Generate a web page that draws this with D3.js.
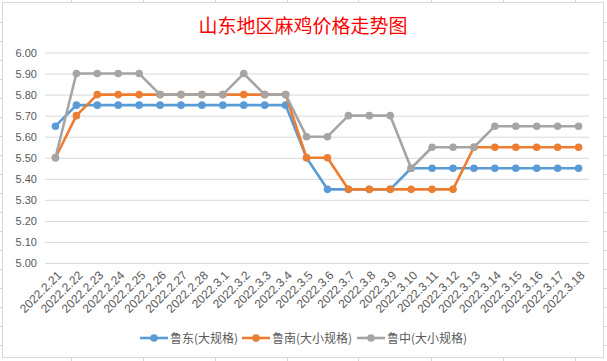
<!DOCTYPE html>
<html><head><meta charset="utf-8">
<script src="https://cdn.jsdelivr.net/npm/d3@7"></script>
<style>body{margin:0;background:#fff}svg{display:block}</style>
</head><body>
<svg id="c" width="607" height="361"></svg>
<script>
const title = "山东地区麻鸡价格走势图";
const dates = ["2022.2.21","2022.2.22","2022.2.23","2022.2.24","2022.2.25","2022.2.26","2022.2.27","2022.2.28","2022.3.1","2022.3.2","2022.3.3","2022.3.4","2022.3.5","2022.3.6","2022.3.7","2022.3.8","2022.3.9","2022.3.10","2022.3.11","2022.3.12","2022.3.13","2022.3.14","2022.3.15","2022.3.16","2022.3.17","2022.3.18"];
const seriesNames = ["鲁东(大规格)","鲁南(大小规格)","鲁中(大小规格)"];
const ludong = [5.65,5.75,5.75,5.75,5.75,5.75,5.75,5.75,5.75,5.75,5.75,5.75,5.50,5.35,5.35,5.35,5.35,5.45,5.45,5.45,5.45,5.45,5.45,5.45,5.45,5.45];
const lunan  = [5.50,5.70,5.80,5.80,5.80,5.80,5.80,5.80,5.80,5.80,5.80,5.80,5.50,5.50,5.35,5.35,5.35,5.35,5.35,5.35,5.55,5.55,5.55,5.55,5.55,5.55];
const luzhong= [5.50,5.90,5.90,5.90,5.90,5.80,5.80,5.80,5.80,5.90,5.80,5.80,5.60,5.60,5.70,5.70,5.70,5.45,5.55,5.55,5.55,5.65,5.65,5.65,5.65,5.65];
const yTicks = [5.00,5.10,5.20,5.30,5.40,5.50,5.60,5.70,5.80,5.90,6.00];
const colors = ["#5b9bd5","#ed7d31","#a5a5a5"];
const allSeries = [ludong, lunan, luzhong];

const svg = d3.select("#c");
// spreadsheet background grid outside chart
const bg = svg.append("g").attr("stroke","#d4d4d4").attr("stroke-width",1);
[71,143,215,287,358,431,503,575].forEach(x=>{
  bg.append("line").attr("x1",x+0.5).attr("x2",x+0.5).attr("y1",0).attr("y2",361);
});
for(let y=22;y<361;y+=19){
  bg.append("line").attr("x1",0).attr("x2",607).attr("y1",y+0.5).attr("y2",y+0.5);
}
// chart area
svg.append("rect").attr("x",2.5).attr("y",2.5).attr("width",601).attr("height",355)
  .attr("fill","#fff").attr("stroke","#d9d9d9").attr("stroke-width",1);

const x = d3.scaleBand().domain(dates).range([45,589]);
const y = d3.scaleLinear().domain([5.0,6.0]).range([263,52.5]);

svg.append("text").attr("x",303).attr("y",33).attr("text-anchor","middle")
  .attr("fill","#ff0000").attr("font-family","'Noto Sans CJK SC'").attr("font-size",19)
  .text(title);

// y axis
const yAxis = d3.axisLeft(y).tickValues(yTicks).tickFormat(d3.format(".2f")).tickSize(-(589-45)).tickPadding(8);
const gy = svg.append("g").attr("transform","translate(45,0)").call(yAxis);
gy.select(".domain").remove();
gy.selectAll(".tick line").attr("stroke","#d9d9d9").attr("stroke-width",1).attr("x2",589-45).attr("x1",0);
gy.selectAll(".tick text").attr("fill","#595959").attr("font-family","'Liberation Sans'").attr("font-size",11);

// x axis
const xAxis = d3.axisBottom(x).tickSize(0).tickPadding(0);
const gx = svg.append("g").attr("transform","translate(0,263)").call(xAxis);
gx.select(".domain").remove();
gx.selectAll(".tick text")
  .attr("fill","#595959").attr("font-family","'Liberation Sans'").attr("font-size",12)
  .attr("text-anchor","end").attr("dy",0)
  .attr("transform","translate(7,13) rotate(-45)");

const line = d3.line().x((d,i)=>x(dates[i])+x.bandwidth()/2).y(d=>y(d));
allSeries.forEach((s,k)=>{
  const g = svg.append("g");
  g.append("path").datum(s).attr("d",line).attr("fill","none")
    .attr("stroke",colors[k]).attr("stroke-width",2.6).attr("stroke-linejoin","round");
  g.selectAll("circle").data(s).join("circle")
    .attr("cx",(d,i)=>x(dates[i])+x.bandwidth()/2).attr("cy",d=>y(d)).attr("r",3.8)
    .attr("fill",colors[k]);
});

// legend
const legX = [140,242,357];
seriesNames.forEach((n,k)=>{
  const g = svg.append("g").attr("transform",`translate(${legX[k]},338)`);
  g.append("line").attr("x1",0).attr("x2",28).attr("stroke",colors[k]).attr("stroke-width",2.6);
  g.append("circle").attr("cx",14).attr("r",3.8).attr("fill",colors[k]);
  g.append("text").attr("x",30).attr("y",4.5).attr("fill","#595959")
    .attr("font-family","'Noto Sans CJK SC'").attr("font-size",12).text(n);
});
</script>
</body></html>
